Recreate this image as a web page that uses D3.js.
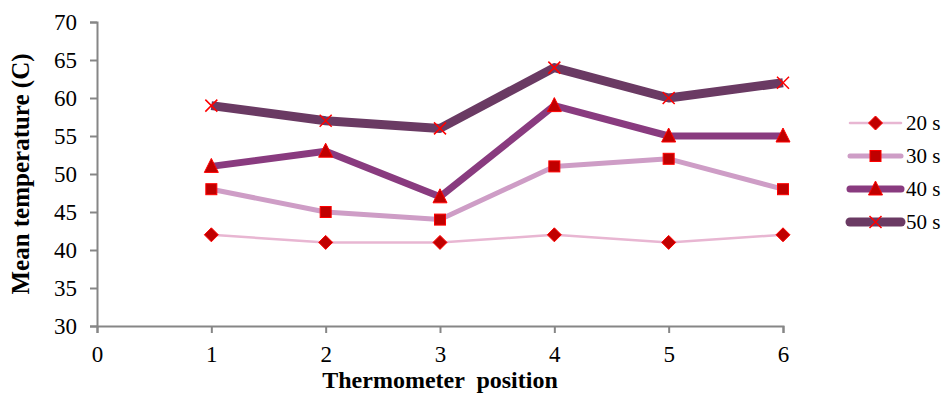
<!DOCTYPE html>
<html>
<head>
<meta charset="utf-8">
<script src="https://cdn.jsdelivr.net/npm/d3@7"></script>
<style>
  html, body { margin: 0; padding: 0; background: #fff; }
  svg { display: block; }
  svg text { font-family: "Liberation Serif", "Times New Roman", Tinos, "DejaVu Serif", serif; }
</style>
</head>
<body>
<div id="chart"></div>
<script>
// ---- data ----
const POSITIONS = [1, 2, 3, 4, 5, 6];
const SERIES_NAMES = ['20 s', '30 s', '40 s', '50 s'];
const T20 = [42, 41, 41, 42, 41, 42];
const T30 = [48, 45, 44, 51, 52, 48];
const T40 = [51, 53, 47, 59, 55, 55];
const T50 = [59, 57, 56, 64, 60, 62];
const X_TICKS = [0, 1, 2, 3, 4, 5, 6];
const Y_TICKS = [30, 35, 40, 45, 50, 55, 60, 65, 70];

const STYLE = [
  { color: '#E8B6D2', width: 2.5, marker: 'diamond' },
  { color: '#CE9DC6', width: 5,   marker: 'square' },
  { color: '#893B7F', width: 7,   marker: 'triangle' },
  { color: '#6A3A63', width: 9,   marker: 'cross' },
];
const SERIES = [T20, T30, T40, T50];

const W = 943, H = 396;
const m = { t: 22, r: 160, b: 70, l: 97 };

const svg = d3.select('#chart').append('svg')
  .attr('width', W).attr('height', H);

const x = d3.scaleLinear().domain([0, 6]).range([m.l, 783]);
const y = d3.scaleLinear().domain([30, 70]).range([326, m.t]);

const AXIS_COLOR = '#868686';

// axes
const gx = svg.append('g').attr('transform', `translate(0,${y(30)})`)
  .call(d3.axisBottom(x).tickValues(X_TICKS).tickFormat(d3.format('d')).tickSizeOuter(0).tickSize(7).tickPadding(13));
const gy = svg.append('g').attr('transform', `translate(${m.l},0)`)
  .call(d3.axisLeft(y).tickValues(Y_TICKS).tickSizeOuter(0).tickSize(7).tickPadding(13));
[gx, gy].forEach(g => {
  g.attr('font-family', null);
  g.select('.domain').attr('stroke', AXIS_COLOR).attr('stroke-width', 2);
  g.selectAll('.tick line').attr('stroke', AXIS_COLOR).attr('stroke-width', 2);
  g.selectAll('.tick text').attr('font-size', 23).attr('fill', '#000');
});

// axis titles
svg.append('text')
  .attr('x', 440).attr('y', 388)
  .attr('text-anchor', 'middle')
  .attr('font-weight', 'bold').attr('font-size', 24)
  .attr('xml:space', 'preserve')
  .text('Thermometer  position');
svg.append('text')
  .attr('transform', `translate(29,${(y(30) + y(70)) / 2}) rotate(-90)`)
  .attr('text-anchor', 'middle')
  .attr('font-weight', 'bold').attr('font-size', 25)
  .text('Mean temperature (C)');

// markers
function drawMarker(g, type, cx, cy) {
  const fill = '#C00000', stroke = '#FF0000';
  if (type === 'diamond') {
    const s = 7;
    g.append('path').attr('d', `M${cx},${cy - s}L${cx + s},${cy}L${cx},${cy + s}L${cx - s},${cy}Z`)
      .attr('fill', fill).attr('stroke', stroke).attr('stroke-width', 1);
  } else if (type === 'square') {
    const s = 5.5;
    g.append('rect').attr('x', cx - s).attr('y', cy - s).attr('width', 2 * s).attr('height', 2 * s)
      .attr('fill', fill).attr('stroke', stroke).attr('stroke-width', 1);
  } else if (type === 'triangle') {
    const s = 7;
    g.append('path').attr('d', `M${cx},${cy - s - 1}L${cx + s},${cy + s - 1}L${cx - s},${cy + s - 1}Z`)
      .attr('fill', fill).attr('stroke', stroke).attr('stroke-width', 1);
  } else {
    const s = 6;
    g.append('path').attr('d', `M${cx - s},${cy - s}L${cx + s},${cy + s}M${cx - s},${cy + s}L${cx + s},${cy - s}`)
      .attr('stroke', stroke).attr('stroke-width', 1.5).attr('fill', 'none');
  }
}

const line = d3.line().x((d, i) => x(POSITIONS[i])).y(d => y(d));
const gLines = svg.append('g');
SERIES.forEach((vals, si) => {
  gLines.append('path')
    .attr('d', line(vals))
    .attr('fill', 'none')
    .attr('stroke', STYLE[si].color)
    .attr('stroke-width', STYLE[si].width)
    .attr('stroke-linejoin', 'round');
});
SERIES.forEach((vals, si) => {
  const g = svg.append('g');
  vals.forEach((v, i) => drawMarker(g, STYLE[si].marker, x(POSITIONS[i]), y(v)));
});

// legend
const lg = svg.append('g');
SERIES_NAMES.forEach((name, i) => {
  const ly = 123 + i * 33;
  lg.append('line')
    .attr('x1', 850).attr('x2', 901).attr('y1', ly).attr('y2', ly)
    .attr('stroke', STYLE[i].color).attr('stroke-width', STYLE[i].width)
    .attr('stroke-linecap', 'round');
  drawMarker(lg, STYLE[i].marker, 875.5, ly);
  lg.append('text')
    .attr('x', 906).attr('y', ly).attr('dy', '0.35em')
    .attr('font-size', 21)
    .text(name);
});
</script>
</body>
</html>
